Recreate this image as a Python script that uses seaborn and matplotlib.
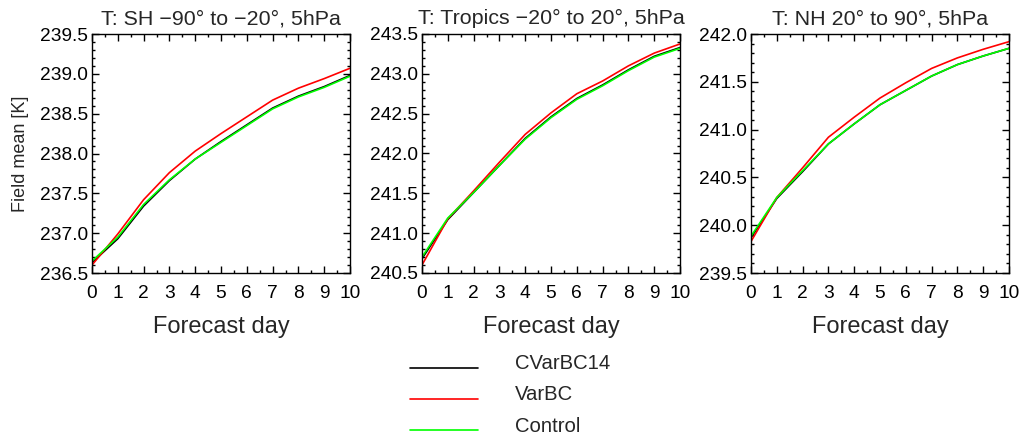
import numpy as np
import pandas as pd
import matplotlib
matplotlib.use("Agg")
import matplotlib.pyplot as plt
from matplotlib.ticker import MultipleLocator, FormatStrFormatter
from matplotlib.legend_handler import HandlerLine2D
import seaborn as sns

days = list(range(11))
series_names = ["CVarBC14", "VarBC", "Control"]
series_colors = ["#000000", "#ff0000", "#00ff00"]

titles = ["T: SH \u221290\u00b0 to \u221220\u00b0, 5hPa",
          "T: Tropics \u221220\u00b0 to 20\u00b0, 5hPa",
          "T: NH 20\u00b0 to 90\u00b0, 5hPa"]
ylims = [(236.5, 239.5), (240.5, 243.5), (239.5, 242.0)]

sh_cvarbc = [236.63, 236.93, 237.34, 237.66, 237.93, 238.15, 238.36, 238.57, 238.72, 238.84, 238.98]
sh_varbc = [236.60, 236.99, 237.42, 237.76, 238.03, 238.25, 238.46, 238.67, 238.82, 238.94, 239.07]
sh_control = [236.65, 236.95, 237.36, 237.67, 237.93, 238.14, 238.35, 238.56, 238.71, 238.83, 238.97]

tr_cvarbc = [240.68, 241.17, 241.51, 241.85, 242.19, 242.46, 242.69, 242.86, 243.05, 243.22, 243.33]
tr_varbc = [240.60, 241.18, 241.53, 241.89, 242.24, 242.51, 242.75, 242.91, 243.10, 243.26, 243.375]
tr_control = [240.70, 241.19, 241.51, 241.85, 242.18, 242.45, 242.68, 242.85, 243.04, 243.21, 243.32]

nh_cvarbc = [239.87, 240.28, 240.56, 240.85, 241.06, 241.26, 241.41, 241.56, 241.68, 241.77, 241.85]
nh_varbc = [239.83, 240.29, 240.60, 240.92, 241.13, 241.33, 241.49, 241.64, 241.75, 241.84, 241.92]
nh_control = [239.885, 240.29, 240.57, 240.85, 241.06, 241.26, 241.41, 241.56, 241.68, 241.77, 241.85]

panels = [
    [sh_cvarbc, sh_varbc, sh_control],
    [tr_cvarbc, tr_varbc, tr_control],
    [nh_cvarbc, nh_varbc, nh_control],
]


class ShiftedLineHandler(HandlerLine2D):
    """Legend line drawn slightly below the text centre."""
    def __init__(self, shift=4.3, **kw):
        super().__init__(**kw)
        self._shift = shift

    def create_artists(self, legend, orig_handle, xdescent, ydescent,
                       width, height, fontsize, trans):
        arts = super().create_artists(legend, orig_handle, xdescent, ydescent,
                                      width, height, fontsize, trans)
        for a in arts:
            y = np.asarray(a.get_ydata(), dtype=float)
            a.set_ydata(y - self._shift)
        return arts


sns.set_theme(style="ticks")
plt.rcParams['font.family'] = ['Liberation Sans', 'DejaVu Sans']
plt.rcParams['axes.linewidth'] = 1.0

fig = plt.figure(figsize=(10.21, 4.36), dpi=100)
lefts = [92, 422, 751]
W, H = 1021, 436
ax_w = 258 / W
ax_b = 1 - 273 / H
ax_h = 239 / H

axes = []
for i in range(3):
    ax = fig.add_axes([lefts[i] / W, ax_b, ax_w, ax_h])
    axes.append(ax)
    for vals, name, col in zip(panels[i], series_names, series_colors):
        df = pd.DataFrame({"day": days, "value": vals})
        sns.lineplot(data=df, x="day", y="value", ax=ax, color=col,
                     linewidth=1.2, label=name, legend=False)
    ax.set_xlim(0, 10)
    ax.set_ylim(*ylims[i])
    ax.xaxis.set_major_locator(MultipleLocator(1))
    ax.xaxis.set_minor_locator(MultipleLocator(0.5))
    ax.yaxis.set_major_locator(MultipleLocator(0.5))
    ax.yaxis.set_minor_locator(MultipleLocator(0.1))
    ax.yaxis.set_major_formatter(FormatStrFormatter('%.1f'))
    ax.tick_params(which='both', direction='in', top=True, right=True,
                   labelsize=13.8, colors='black', width=1.0)
    ax.tick_params(which='major', length=5)
    ax.tick_params(which='minor', length=2.5)
    ax.tick_params(axis='x', which='major', pad=9)
    ax.tick_params(axis='y', which='major', pad=3)
    ax.set_title(titles[i], fontsize=15.4, pad=7)
    ax.set_xlabel("Forecast day", fontsize=17, labelpad=10)
    ax.set_ylabel("")
    for s in ax.spines.values():
        s.set_color('black')

axes[0].set_ylabel("Field mean [K]", fontsize=13, labelpad=8)

handles = axes[0].get_lines()[:3]
fig.legend(handles, series_names, loc='upper left',
           bbox_to_anchor=(392 / W, 1 - 336 / H), frameon=False,
           fontsize=14.6, handlelength=3.35, handletextpad=1.8,
           labelspacing=0.6,
           handler_map={h: ShiftedLineHandler() for h in handles})

fig.savefig("out.png", dpi=100)
